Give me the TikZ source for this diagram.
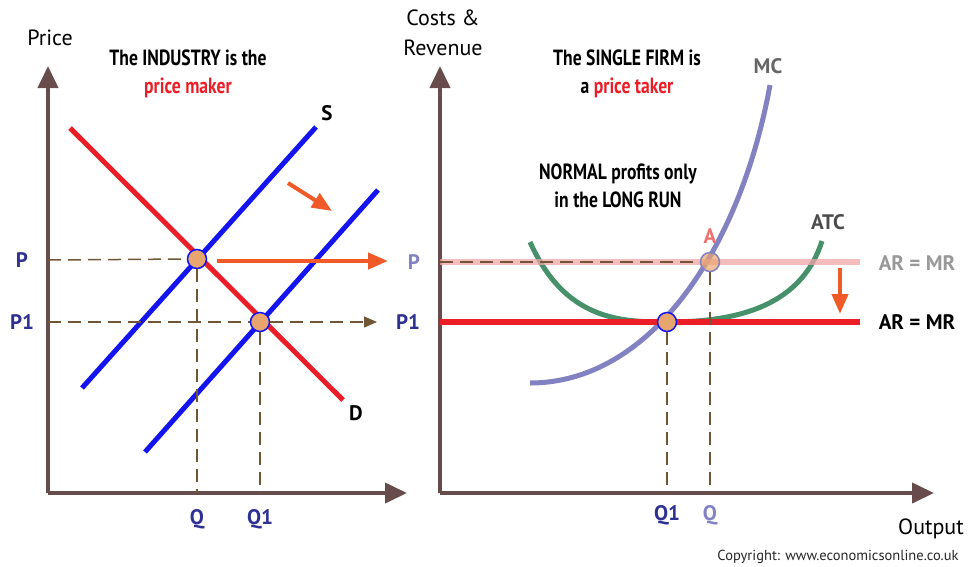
\documentclass[tikz,border=0pt]{standalone}
\usepackage{fontspec}
\setmainfont{PT Sans}
\newfontfamily\condfont[FakeStretch=0.8]{PT Sans}
\usetikzlibrary{arrows.meta}

\definecolor{axisbrown}{RGB}{104,76,76}
\definecolor{dashbrown}{RGB}{112,86,52}
\definecolor{supblue}{RGB}{20,20,240}
\definecolor{demred}{RGB}{235,30,40}
\definecolor{labblue}{RGB}{46,49,146}
\definecolor{lavblue}{RGB}{130,130,195}
\definecolor{atcgreen}{RGB}{70,145,105}
\definecolor{shiftorange}{RGB}{240,90,40}
\definecolor{dotorange}{RGB}{232,165,110}
\definecolor{oldpink}{RGB}{242,165,168}
\definecolor{apink}{RGB}{240,110,110}

\begin{document}
\begin{tikzpicture}[x=1pt, y=-1pt,
  axis/.style={draw=axisbrown, line width=4pt, -{Triangle[length=22pt,width=20pt]}},
  guide/.style={draw=dashbrown, line width=1.5pt, dash pattern=on 13pt off 7pt},
  curve/.style={line width=5pt},
  shiftarrow/.style={draw=shiftorange, line width=4pt, -{Triangle[length=20pt,width=16pt]}},
  eqdot/.style={circle, draw=supblue, fill=dotorange, line width=1.5pt, minimum size=19pt, inner sep=0pt},
  lab/.style={font=\fontsize{21}{23}\selectfont\bfseries, text=labblue},
  curvelab/.style={font=\fontsize{21}{23}\selectfont\bfseries},
  title/.style={font=\condfont\fontsize{22}{28}\selectfont\bfseries, align=center},
  axtext/.style={font=\fontsize{22}{30}\selectfont, align=center}
]
  \useasboundingbox (0,0) rectangle (969,566);

  % ---------------- left panel: the industry ----------------
  \coordinate (O1) at (48,493);
  \coordinate (Y1) at (48,66);
  \coordinate (X1) at (407,493);
  \draw[axis] (O1) -- (Y1);
  \draw[axis] (O1) -- (X1);
  \node[axtext] (price) at (50,38) {Price};
  \node[title] (indtitle) at (188,74) {The INDUSTRY is the\\\textcolor{demred}{price maker}};

  % demand and supply
  \coordinate (Dtop) at (70,128);
  \coordinate (Dbot) at (343,400);
  \coordinate (Stop) at (316,127);
  \coordinate (Sbot) at (82,388);
  \coordinate (S1top) at (378,190);
  \coordinate (S1bot) at (145,452);
  \draw[curve, demred] (Dtop) -- (Dbot);
  \draw[curve, supblue] (Sbot) -- (Stop);
  \draw[curve, supblue] (S1bot) -- (S1top);
  \node[curvelab] (slab) at (327,113) {S};
  \node[curvelab] (dlab) at (356,413) {D};

  % equilibria
  \node[eqdot] (E0) at (197,259) {};
  \node[eqdot] (E1) at (260,322) {};

  % guide lines
  \coordinate (pL) at (48,260);
  \coordinate (p1L) at (48,322);
  \coordinate (p1R) at (377,322);
  \coordinate (qL) at (197,493);
  \coordinate (q1L) at (260,493);
  \draw[guide] (pL) -- (E0.west);
  \draw[guide] (p1L) -- (E1.west);
  \draw[guide, -{Triangle[length=13pt,width=11pt]}] (E1.east) -- (p1R);
  \draw[guide] (E0.south) -- (qL);
  \draw[guide] (E1.south) -- (q1L);

  % shift arrows
  \coordinate (shA) at (288,183);
  \coordinate (shB) at (332,211);
  \coordinate (prA) at (217,261);
  \coordinate (prB) at (388,261);
  \draw[shiftarrow] (shA) -- (shB);
  \draw[shiftarrow] (prA) -- (prB);

  \node[lab] (Pl) at (22,260) {P};
  \node[lab] (P1l) at (22,322) {P1};
  \node[lab] (Ql) at (197,519) {Q};
  \node[lab] (Q1l) at (260,519) {Q1};

  % ---------------- right panel: the single firm ----------------
  \coordinate (O2) at (440,493);
  \coordinate (Y2) at (440,66);
  \coordinate (X2) at (934,493);
  \draw[axis] (O2) -- (Y2);
  \draw[axis] (O2) -- (X2);
  \node[axtext] (costs) at (443,33) {Costs \&\\Revenue};
  \node[axtext] (output) at (931,529) {Output};
  \node[title] (firmtitle) at (627,74) {The SINGLE FIRM is\\a \textcolor{demred}{price taker}};
  \node[title] (normal) at (618,186) {NORMAL profits only\\in the LONG RUN};

  % cost curves
  \coordinate (atcL) at (530,242);
  \coordinate (atcM) at (667,322);
  \coordinate (atcR) at (822,241);
  \coordinate (mcB) at (530,383);
  \coordinate (mcT) at (770,85);
  \draw[curve, atcgreen] (atcL) .. controls (565,320) and (620,322) .. (atcM)
    .. controls (730,322) and (800,310) .. (atcR);
  \draw[curve, lavblue] (mcB) .. controls (650,383) and (740,250) .. (mcT);
  \node[curvelab, text=black!60] (mclab) at (768,66) {MC};
  \node[curvelab, text=black!70] (atclab) at (828,222) {ATC};

  % revenue lines
  \coordinate (arL) at (440,262);
  \coordinate (arR) at (860,262);
  \coordinate (ar1L) at (440,322);
  \coordinate (ar1R) at (860,322);
  \draw[line width=6pt, oldpink, opacity=0.75] (arL) -- (arR);
  \draw[line width=6pt, demred] (ar1L) -- (ar1R);
  \node[curvelab, text=black!40] (armr) at (917,263) {AR = MR};
  \node[curvelab] (armr1) at (917,322) {AR = MR};

  % points
  \node[eqdot, draw=lavblue, fill opacity=0.7] (A) at (710,262) {};
  \node[eqdot] (B) at (667,322) {};
  \node[curvelab, text=apink] (alab) at (710,236) {A};

  \coordinate (q1R) at (667,493);
  \coordinate (qR) at (710,493);
  \draw[guide] (arL) -- (A.west);
  \draw[guide] (A.south) -- (qR);
  \draw[guide] (B.south) -- (q1R);

  % fall in price
  \coordinate (dnA) at (840,268);
  \coordinate (dnB) at (840,314);
  \draw[shiftarrow] (dnA) -- (dnB);

  \node[lab, text=lavblue] (Pr) at (414,262) {P};
  \node[lab] (P1r) at (408,322) {P1};
  \node[lab] (Q1r) at (667,515) {Q1};
  \node[lab, text=lavblue] (Qr) at (710,515) {Q};

  \node[font=\fontsize{14.5}{16}\selectfont, text=black!85] (copy) at (838,557) {Copyright: www.economicsonline.co.uk};
\end{tikzpicture}
\end{document}
